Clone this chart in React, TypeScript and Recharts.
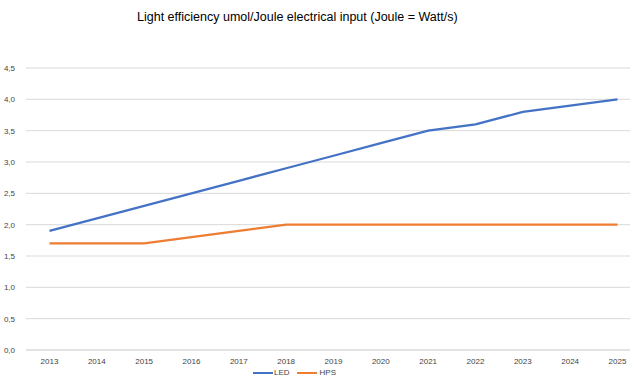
import React from 'react';
import { LineChart, Line, XAxis, YAxis, CartesianGrid } from 'recharts';

// values
const years = ['2013', '2014', '2015', '2016', '2017', '2018', '2019', '2020', '2021', '2022', '2023', '2024', '2025'];
const led = [1.9, 2.1, 2.3, 2.5, 2.7, 2.9, 3.1, 3.3, 3.5, 3.6, 3.8, 3.9, 4.0];
const hps = [1.7, 1.7, 1.7, 1.8, 1.9, 2.0, 2.0, 2.0, 2.0, 2.0, 2.0, 2.0, 2.0];
const yTicks = [0, 0.5, 1, 1.5, 2, 2.5, 3, 3.5, 4, 4.5];

const data = years.map((year, i) => ({ year, LED: led[i], HPS: hps[i] }));

const font = '"Liberation Sans", Arial, sans-serif';
const fmt = (v: number) => v.toFixed(1).replace('.', ',');

const App: React.FC = () => {
  return (
    <div style={{ position: 'absolute', left: 0, top: 0, width: 630, height: 376, overflow: 'hidden', background: '#fff', fontFamily: font }}>
      <div style={{ position: 'absolute', left: 137, top: 10, fontSize: 12.5, color: '#000', whiteSpace: 'nowrap' }}>
        Light efficiency umol/Joule electrical input (Joule = Watt/s)
      </div>
      <LineChart width={641} height={376} data={data} margin={{ top: 68, right: 0, bottom: 12, left: 0 }}>
        <CartesianGrid vertical={false} stroke="#d9d9d9" strokeWidth={1} />
        <XAxis
          dataKey="year"
          height={14}
          stroke="#d9d9d9"
          tickLine={false}
          padding={{ left: 23.5, right: 23.5 }}
          tick={{ fontSize: 8, fill: '#444', fontFamily: font }}
          tickMargin={2}
          interval={0}
        />
        <YAxis
          width={26}
          domain={[0, 4.5]}
          ticks={yTicks}
          axisLine={false}
          tickLine={false}
          tickFormatter={fmt}
          tick={{ fontSize: 8, fill: '#444', fontFamily: font }}
          tickMargin={5}
        />
        <Line type="linear" dataKey="LED" stroke="#4472C4" strokeWidth={2.25} dot={false} isAnimationActive={false} />
        <Line type="linear" dataKey="HPS" stroke="#ED7D31" strokeWidth={2.25} dot={false} isAnimationActive={false} />
      </LineChart>
      <div style={{ position: 'absolute', left: 253, top: 368, height: 10, display: 'flex', alignItems: 'center', fontSize: 8, lineHeight: '10px', color: '#444' }}>
        <span style={{ display: 'inline-block', width: 20, height: 2, background: '#4472C4' }} />
        <span style={{ marginLeft: 1 }}>LED</span>
        <span style={{ display: 'inline-block', width: 20, height: 2, background: '#ED7D31', marginLeft: 7 }} />
        <span style={{ marginLeft: 3 }}>HPS</span>
      </div>
    </div>
  );
};

export default App;
